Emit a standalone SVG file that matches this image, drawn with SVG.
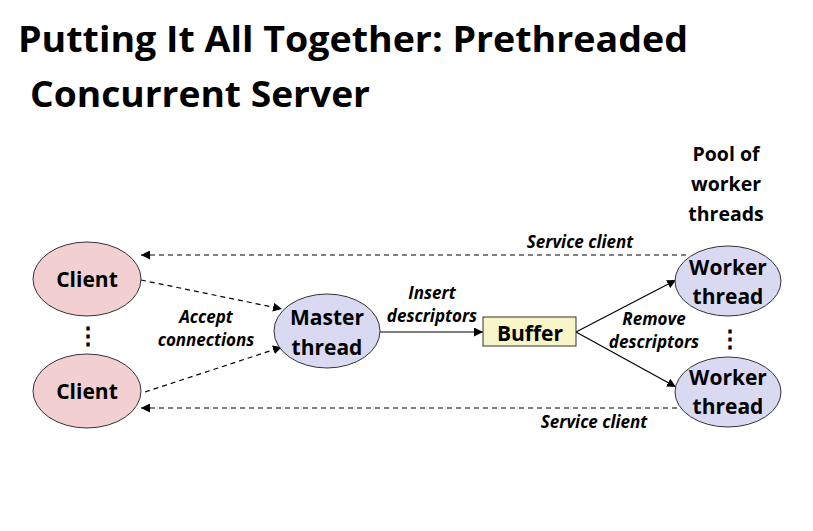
<svg xmlns="http://www.w3.org/2000/svg" width="813" height="531" viewBox="0 0 813 531">
<defs>
<style>
text{font-family:"Open Sans","Noto Sans","Liberation Sans",sans-serif;font-weight:bold;fill:#000}
.title{font-size:36px}
.node{font-size:21px;text-anchor:middle}
.lbl{font-size:17px;font-style:italic;text-anchor:middle}
.pool{font-size:19.5px;text-anchor:middle}
.dots{font-size:24px;text-anchor:middle}
.client{fill:#f2cfd0;stroke:#333;stroke-width:1}
.thr{fill:#d9d9f2;stroke:#333;stroke-width:1}
.solid{stroke:#000;stroke-width:1.2;fill:none}
.dash{stroke:#000;stroke-width:1.2;fill:none;stroke-dasharray:5 4}
</style>
<marker id="ah" viewBox="0 0 10 10" refX="10" refY="5" markerWidth="9" markerHeight="9" markerUnits="userSpaceOnUse" orient="auto">
<path d="M0,0 L10,5 L0,10 z" fill="#000"/>
</marker>
</defs>
<rect width="813" height="531" fill="#fff"/>
<g id="title">
<text class="title" x="18" y="52" textLength="670" lengthAdjust="spacingAndGlyphs">Putting It All Together: Prethreaded</text>
<text class="title" x="30" y="107" textLength="340" lengthAdjust="spacingAndGlyphs">Concurrent Server</text>
</g>
<g id="connectors">
<line class="dash" x1="686" y1="255" x2="141" y2="255" marker-end="url(#ah)"/>
<line class="dash" x1="686" y1="408" x2="141" y2="408" marker-end="url(#ah)"/>
<line class="dash" x1="141" y1="280" x2="282" y2="309" marker-end="url(#ah)"/>
<line class="dash" x1="145" y1="392" x2="282" y2="347" marker-end="url(#ah)"/>
<line class="solid" x1="380" y1="332" x2="483" y2="332" marker-end="url(#ah)"/>
<line class="solid" x1="576" y1="332" x2="676" y2="280" marker-end="url(#ah)"/>
<line class="solid" x1="576" y1="332" x2="676" y2="387" marker-end="url(#ah)"/>
<text class="lbl" x="580" y="248">Service client</text>
<text class="lbl" x="594" y="428">Service client</text>
<text class="lbl" x="206" y="323">Accept</text>
<text class="lbl" x="206" y="346">connections</text>
<text class="lbl" x="432" y="299">Insert</text>
<text class="lbl" x="432" y="322">descriptors</text>
<text class="lbl" x="654" y="325">Remove</text>
<text class="lbl" x="654" y="348">descriptors</text>
</g>
<g id="client1">
<ellipse class="client" cx="87" cy="279" rx="54" ry="37"/>
<text class="node" x="87" y="287">Client</text>
</g>
<g id="client-dots">
<text class="dots" x="88" y="344">⋮</text>
</g>
<g id="client2">
<ellipse class="client" cx="87" cy="391" rx="54" ry="37"/>
<text class="node" x="87" y="399">Client</text>
</g>
<g id="master">
<ellipse class="thr" cx="327" cy="331" rx="53" ry="37"/>
<text class="node" x="327" y="325">Master</text>
<text class="node" x="327" y="355">thread</text>
</g>
<g id="buffer">
<rect x="483" y="317" width="93" height="29" fill="#f8f5c9" stroke="#333" stroke-width="1"/>
<text class="node" x="530" y="341">Buffer</text>
</g>
<g id="worker1">
<ellipse class="thr" cx="728" cy="281" rx="53" ry="35"/>
<text class="node" x="728" y="275">Worker</text>
<text class="node" x="728" y="304">thread</text>
</g>
<g id="worker-dots">
<text class="dots" x="730" y="347">⋮</text>
</g>
<g id="worker2">
<ellipse class="thr" cx="728" cy="392" rx="53" ry="35"/>
<text class="node" x="728" y="385">Worker</text>
<text class="node" x="728" y="414">thread</text>
</g>
<g id="pool">
<text class="pool" x="726" y="161">Pool of</text>
<text class="pool" x="726" y="191">worker</text>
<text class="pool" x="726" y="221">threads</text>
</g>
</svg>
